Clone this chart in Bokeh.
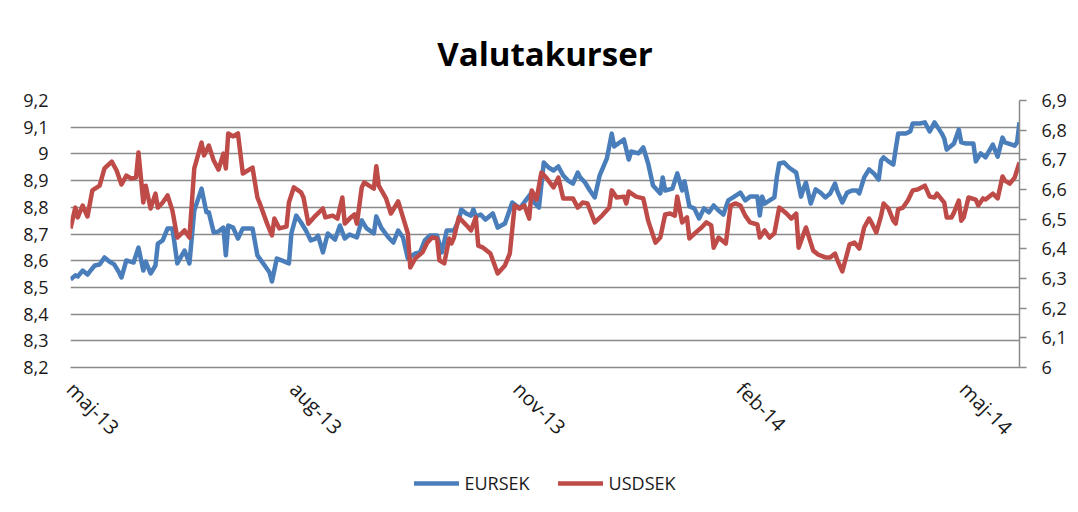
import math
from bokeh.plotting import figure
from bokeh.layouts import column
from bokeh.models import (Range1d, LinearAxis, FixedTicker, CustomJSTickFormatter,
                          Legend, LegendItem, Label)
from bokeh.embed import file_html
from bokeh.resources import INLINE

# ---- data (x = days from 2013-05-01) ----
EUR_DAY = [0, 2, 3, 5, 7, 8, 10, 12, 14, 16, 18, 20, 21, 23, 26, 28, 30, 31, 33, 35,
           36, 38, 40, 42, 44, 47, 49, 51, 54, 56, 57, 59, 61, 63, 64, 65, 67, 69, 71, 75,
           77, 80, 82, 83, 85, 87, 90, 91, 93,
           95, 97, 99, 101, 102, 104, 106, 109, 111, 113, 115, 118, 120, 122, 125, 126, 128,
           131, 133, 135, 137, 139, 142, 144, 146, 148, 151, 153, 155, 158, 160, 161, 163,
           165, 166, 167, 169, 171, 174, 176, 179, 182, 185, 186, 190, 191, 193, 195, 197,
           199, 201,
           203, 205, 207, 209, 210, 212, 214, 216, 218, 221, 223, 224, 228, 230, 231, 234,
           236, 238, 240, 243, 244, 245, 248, 250, 252, 253, 255, 257, 259, 261, 263, 265,
           267, 269, 271, 273, 276, 278, 280, 283, 284, 285, 286, 290, 291, 292, 294, 296,
           299, 301,
           302, 303, 305, 307, 309, 311, 313, 315, 316, 318, 320, 322, 324, 325, 327, 329,
           331, 333, 334, 335, 337, 339, 341, 344, 346, 347, 350, 352, 354, 356, 359, 360,
           361, 364, 366, 367, 369, 372, 373, 375, 377, 380, 382, 384, 385, 389, 390, 391]
EUR_SEK = [8.530, 8.545, 8.541, 8.563, 8.548, 8.560, 8.582, 8.586, 8.612, 8.597, 8.586,
           8.556, 8.537, 8.601, 8.593, 8.649, 8.563, 8.597, 8.552, 8.582, 8.664, 8.676,
           8.721, 8.721, 8.590, 8.638, 8.590, 8.788, 8.870, 8.781, 8.781, 8.706, 8.709,
           8.724, 8.620, 8.732, 8.724, 8.683, 8.721, 8.721, 8.620, 8.582, 8.556, 8.522,
           8.608, 8.601, 8.590, 8.702, 8.769,
           8.743, 8.713, 8.676, 8.683, 8.694, 8.631, 8.702, 8.679, 8.732, 8.683, 8.698,
           8.687, 8.751, 8.721, 8.702, 8.766, 8.724, 8.687, 8.668, 8.713, 8.687, 8.608,
           8.627, 8.631, 8.676, 8.694, 8.694, 8.631, 8.713, 8.713, 8.751, 8.792, 8.777,
           8.769, 8.792, 8.766, 8.773, 8.754, 8.777, 8.724, 8.739, 8.818, 8.796, 8.807,
           8.855, 8.818, 8.799, 8.968, 8.949, 8.938, 8.953,
           8.919, 8.900, 8.889, 8.930, 8.912, 8.893, 8.863, 8.837, 8.919, 8.983, 9.076,
           9.028, 9.054, 8.979, 9.009, 9.002, 9.024, 8.964, 8.882, 8.852, 8.912, 8.863,
           8.870, 8.927, 8.863, 8.897, 8.803, 8.796, 8.758, 8.796, 8.781, 8.807, 8.788,
           8.773, 8.826, 8.837, 8.855, 8.826, 8.840, 8.840, 8.769, 8.840, 8.814, 8.837,
           8.912, 8.964, 8.968, 8.949, 8.930, 8.840,
           8.870, 8.893, 8.814, 8.867, 8.855, 8.837, 8.852, 8.889, 8.859, 8.818, 8.855,
           8.863, 8.863, 8.852, 8.912, 8.942, 8.927, 8.904, 8.975, 8.987, 8.972, 8.960,
           9.076, 9.076, 9.084, 9.114, 9.114, 9.118, 9.084, 9.118, 9.076, 9.058, 9.016,
           9.039, 9.091, 9.043, 9.039, 9.039, 8.972, 9.002, 8.987, 9.035, 8.990, 9.061,
           9.043, 9.031, 9.043, 9.118]

USD_DAY = [0, 2, 3, 5, 7, 9, 12, 14, 17, 19, 21, 23, 25, 27, 28, 30, 31, 33, 35, 36,
           38, 40, 42, 44, 47, 49, 51, 54, 55, 57, 59, 61, 63, 64, 65, 67, 69, 71, 75, 77,
           78, 81, 83, 84, 86, 89, 90, 92,
           95, 96, 98, 101, 104, 105, 108, 110, 112, 113, 115, 117, 118, 120, 121, 123,
           125, 126, 127, 130, 132, 135, 137, 139, 140, 142, 145, 147, 149, 151, 152, 154,
           156, 157, 158, 160, 164, 165, 167, 168, 170, 173, 176, 179, 181, 183, 185, 187,
           189, 190, 192, 194, 196, 199, 201,
           203, 207, 209, 211, 213, 216, 219, 222, 223, 225, 228, 229, 230, 233, 236, 238,
           241, 243, 245, 247, 249, 250, 252, 254, 255, 258, 260, 262, 264, 265, 267, 270,
           272, 274, 276, 278, 280, 283, 284, 286, 288, 290, 292, 295, 297, 299, 300,
           303, 306, 308, 311, 313, 315, 316, 318, 321, 323, 325, 327, 329, 330, 332, 334,
           335, 337, 339, 340, 341, 343, 345, 347, 349, 352, 354, 356, 357, 360, 361, 363,
           364, 366, 367, 368, 370, 373, 374, 376, 377, 380, 382, 384, 385, 387, 389, 391]
USD_SEK = [6.469, 6.539, 6.506, 6.546, 6.509, 6.597, 6.613, 6.671, 6.694, 6.664, 6.617,
           6.647, 6.637, 6.640, 6.725, 6.556, 6.613, 6.536, 6.586, 6.539, 6.556, 6.580,
           6.529, 6.438, 6.462, 6.438, 6.671, 6.758, 6.715, 6.748, 6.698, 6.667, 6.721,
           6.671, 6.789, 6.779, 6.789, 6.654, 6.674, 6.573, 6.553, 6.485, 6.445, 6.502,
           6.469, 6.475, 6.556, 6.607,
           6.590, 6.573, 6.485, 6.512, 6.536, 6.506, 6.512, 6.502, 6.573, 6.485, 6.502,
           6.516, 6.485, 6.607, 6.624, 6.613, 6.603, 6.678, 6.613, 6.570, 6.519, 6.560,
           6.506, 6.452, 6.337, 6.367, 6.388, 6.421, 6.438, 6.435, 6.361, 6.351, 6.435,
           6.418, 6.438, 6.506, 6.472, 6.462, 6.506, 6.411, 6.404, 6.384, 6.317, 6.344,
           6.384, 6.546, 6.536, 6.546, 6.502, 6.597, 6.566, 6.657, 6.640, 6.607, 6.640,
           6.570, 6.570, 6.539, 6.556, 6.553, 6.489, 6.512, 6.539, 6.597, 6.573, 6.576,
           6.553, 6.593, 6.576, 6.570, 6.495, 6.421, 6.438, 6.516, 6.519, 6.512, 6.576,
           6.489, 6.506, 6.435, 6.458, 6.472, 6.489, 6.479, 6.404, 6.438, 6.418, 6.546,
           6.553, 6.546, 6.512, 6.489, 6.482, 6.438, 6.462, 6.438, 6.452, 6.539, 6.519,
           6.502, 6.519, 6.404,
           6.472, 6.394, 6.381, 6.371, 6.371, 6.384, 6.361, 6.324, 6.415, 6.421, 6.401,
           6.472, 6.502, 6.489, 6.455, 6.512, 6.553, 6.536, 6.495, 6.485, 6.533, 6.539,
           6.563, 6.597, 6.600, 6.613, 6.576, 6.573, 6.586, 6.556, 6.506, 6.506, 6.522,
           6.563, 6.495, 6.506, 6.573, 6.566, 6.546, 6.570, 6.566, 6.586, 6.570, 6.644,
           6.630, 6.620, 6.640, 6.691]

X_TICKS = [0, 92, 184, 276, 368]
X_LABELS = ["maj-13", "aug-13", "nov-13", "feb-14", "maj-14"]
LEFT_TICKS = [8.2, 8.3, 8.4, 8.5, 8.6, 8.7, 8.8, 8.9, 9.0, 9.1, 9.2]
RIGHT_TICKS = [6.0, 6.1, 6.2, 6.3, 6.4, 6.5, 6.6, 6.7, 6.8, 6.9]
TITLE = "Valutakurser"
SERIES = ["EURSEK", "USDSEK"]

FONT = "Open Sans"
GRID = "#8a8a8a"
BLUE = "#4a7ebb"
RED = "#be4b48"
TXT = "#1a1a1a"

# ---- title strip ----
tt = figure(width=1078, height=86, output_backend="svg", toolbar_location=None,
            x_range=Range1d(0, 1), y_range=Range1d(0, 1),
            min_border_left=70, min_border_right=59, min_border_top=0, min_border_bottom=0)
tt.axis.visible = False
tt.grid.visible = False
tt.outline_line_color = None
tt.add_layout(Label(x=0.5, y=33, y_units="screen", text=TITLE, text_align="center",
                    text_baseline="alphabetic", text_font=FONT, text_font_size="33px",
                    text_font_style="bold", text_color="#000000"))

# ---- main chart ----
p = figure(width=1078, height=380, output_backend="svg", toolbar_location=None,
           x_range=Range1d(0, 391), y_range=Range1d(8.2, 9.2),
           min_border_left=70, min_border_right=59, min_border_top=14, min_border_bottom=99)
p.extra_y_ranges = {"usd": Range1d(6.0, 6.9)}
p.outline_line_color = None
p.background_fill_color = "white"
p.border_fill_color = "white"

fmt = CustomJSTickFormatter(code="return (Math.round(tick*10)/10).toString().replace('.', ',');")

# left axis
ya = p.yaxis[0]
ya.ticker = FixedTicker(ticks=LEFT_TICKS)
ya.formatter = fmt
ya.axis_line_color = None
ya.major_tick_line_color = None
ya.minor_tick_line_color = None
ya.major_tick_out = 0
ya.major_label_standoff = 22
ya.major_label_text_font = FONT
ya.major_label_text_font_size = "18px"
ya.major_label_text_color = TXT

# right axis
ra = LinearAxis(y_range_name="usd", ticker=FixedTicker(ticks=RIGHT_TICKS), formatter=fmt)
ra.axis_line_color = GRID
ra.axis_line_width = 1.5
ra.major_tick_line_color = GRID
ra.major_tick_line_width = 1.5
ra.major_tick_out = 7
ra.major_tick_in = 0
ra.minor_tick_line_color = None
ra.major_label_standoff = 15
ra.major_label_text_font = FONT
ra.major_label_text_font_size = "18px"
ra.major_label_text_color = TXT
p.add_layout(ra, "right")

# x axis
xa = p.xaxis[0]
xa.ticker = FixedTicker(ticks=X_TICKS)
xa.major_label_overrides = {t: l for t, l in zip(X_TICKS, X_LABELS)}
xa.axis_line_color = GRID
xa.axis_line_width = 1.5
xa.major_tick_line_color = None
xa.minor_tick_line_color = None
xa.major_tick_out = 0
xa.major_label_standoff = 18
xa.major_label_orientation = -math.pi / 4
xa.major_label_text_font = FONT
xa.major_label_text_font_size = "20px"
xa.major_label_text_color = TXT

p.xgrid.grid_line_color = None
p.ygrid.ticker = FixedTicker(ticks=LEFT_TICKS)
p.ygrid.grid_line_color = GRID
p.ygrid.grid_line_width = 1.5

r1 = p.line(EUR_DAY, EUR_SEK, line_color=BLUE, line_width=4.5, line_join="round")
r2 = p.line(USD_DAY, USD_SEK, line_color=RED, line_width=4.5, line_join="round",
            y_range_name="usd")

# ---- legend strip (renderers reuse the series but sit outside the strip's ranges) ----
lg = figure(width=1078, height=34, output_backend="svg", toolbar_location=None,
            x_range=Range1d(-1000, -999), y_range=Range1d(-1000, -999),
            min_border_left=70, min_border_right=59, min_border_top=0, min_border_bottom=0)
lg.axis.visible = False
lg.grid.visible = False
lg.outline_line_color = None
lr1 = lg.line(EUR_DAY, EUR_SEK, line_color=BLUE, line_width=4.5, line_cap="round")
lr2 = lg.line(USD_DAY, USD_SEK, line_color=RED, line_width=4.5, line_cap="round")
legend = Legend(items=[LegendItem(label=SERIES[0], renderers=[lr1]),
                       LegendItem(label=SERIES[1], renderers=[lr2])],
                orientation="horizontal", location="center")
legend.border_line_color = None
legend.background_fill_alpha = 0
legend.padding = 0
legend.margin = 0
legend.label_text_font = FONT
legend.label_text_font_size = "18px"
legend.label_text_color = TXT
legend.glyph_width = 45
legend.label_standoff = 6
legend.spacing = 28
lg.add_layout(legend)

layout = column(tt, p, lg, spacing=0)
open("out.html", "w").write(file_html(layout, INLINE))
